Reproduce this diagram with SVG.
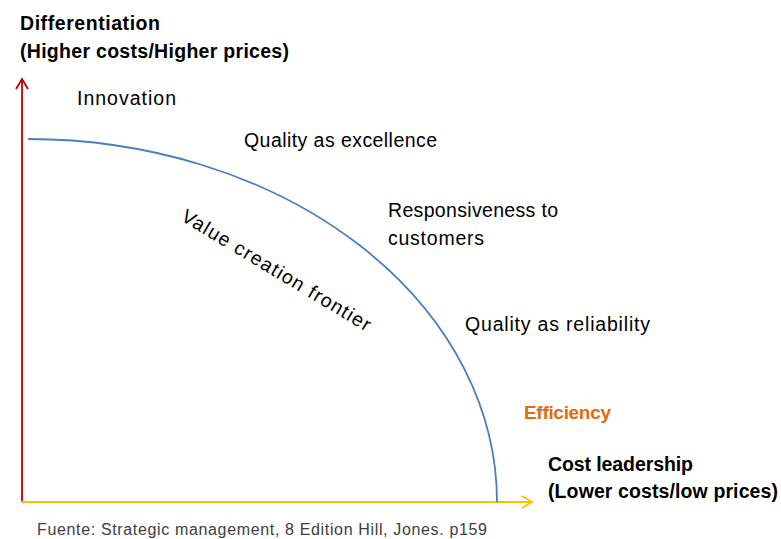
<svg xmlns="http://www.w3.org/2000/svg" width="781" height="539" viewBox="0 0 781 539">
<style>
text{font-family:"Liberation Sans",Arial,sans-serif;fill:#000;}
.lbl{font-size:19.5px;}
.b{font-size:19.5px;font-weight:bold;}
.eff{font-size:19px;font-weight:bold;fill:#E46C0A;}
.src{font-size:16px;fill:#404040;}
</style>
<defs>
<marker id="ared" markerWidth="14" markerHeight="14" refX="11" refY="7" orient="auto" markerUnits="userSpaceOnUse">
<path d="M1,1 L11,7 L1,13" fill="none" stroke="#C00000" stroke-width="1.8"/>
</marker>
<marker id="ayel" markerWidth="14" markerHeight="14" refX="11" refY="7" orient="auto" markerUnits="userSpaceOnUse">
<path d="M1,1 L11,7 L1,13" fill="none" stroke="#FFC000" stroke-width="1.8"/>
</marker>
</defs>
<rect width="781" height="539" fill="#fff"/>
<g id="connectors">
<line x1="22" y1="503" x2="22" y2="79" stroke="#C00000" stroke-width="1.8" marker-end="url(#ared)"/>
<line x1="21" y1="502" x2="532" y2="502" stroke="#FFC000" stroke-width="2" marker-end="url(#ayel)"/>
<path d="M28,139 A469,363 0 0 1 497,502" fill="none" stroke="#4A7EC0" stroke-width="1.8"/>
</g>
<g id="y-axis-label">
<text class="b" x="20" y="30" textLength="140">Differentiation</text>
<text class="b" x="20" y="58" textLength="269">(Higher costs/Higher prices)</text>
</g>
<g id="innovation"><text class="lbl" x="77" y="105" textLength="99">Innovation</text></g>
<g id="quality-excellence"><text class="lbl" x="244" y="147" textLength="193">Quality as excellence</text></g>
<g id="responsiveness">
<text class="lbl" x="388" y="217" textLength="170">Responsiveness to</text>
<text class="lbl" x="388" y="245" textLength="96">customers</text>
</g>
<g id="quality-reliability"><text class="lbl" x="465" y="331" textLength="185">Quality as reliability</text></g>
<g id="frontier-label"><text class="lbl" x="0" y="0" transform="translate(180,220) rotate(31)" textLength="217">Value creation frontier</text></g>
<g id="efficiency"><text class="eff" x="524" y="419" textLength="87">Efficiency</text></g>
<g id="x-axis-label">
<text class="b" x="548" y="471" textLength="145">Cost leadership</text>
<text class="b" x="548" y="498" textLength="230">(Lower costs/low prices)</text>
</g>
<g id="source"><text class="src" x="37" y="535" textLength="450">Fuente: Strategic management, 8 Edition Hill, Jones. p159</text></g>
</svg>
